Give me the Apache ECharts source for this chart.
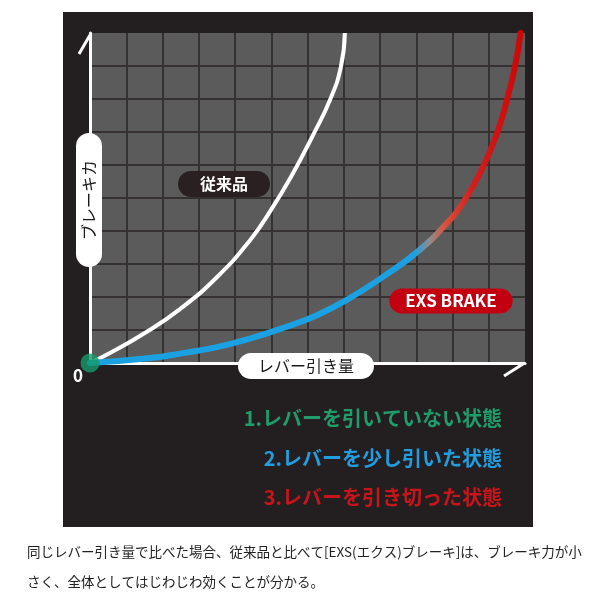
<!DOCTYPE html>
<html><head><meta charset="utf-8">
<script src="https://cdn.jsdelivr.net/npm/echarts@6/dist/echarts.min.js"></script>
<style>html,body{margin:0;padding:0;background:#fff}#c{width:600px;height:600px}</style>
</head><body><div id="c"></div>
<script>
// Lever travel (x) vs braking force (y), grid units x10
const conventionalX = [0, 5.5, 15, 25, 35, 44, 50, 55.5, 61.5, 66.2, 69.2, 70.3];
const conventionalY = [0, 3, 9, 16.5, 26, 37, 46.5, 56.5, 69, 79.7, 89.7, 100];
const exsX = [0, 16.6, 25.7, 35, 44.1, 53.2, 62.6, 71.7, 80.8, 90.2, 98.5, 103.4, 108.4, 112.3, 115, 117.2, 118.8];
const exsY = [0, 1.5, 3.0, 4.8, 7.4, 10.6, 14.5, 19.7, 26.1, 33.6, 42.4, 49.4, 59.4, 69.7, 79.7, 89.7, 100];
const originPoint = [[0, 0]];
const seriesNames = ['従来品', 'EXS BRAKE'];
const axisNames = ['レバー引き量', 'ブレーキカ'];
const stateLabels = ['1.レバーを引いていない状態', '2.レバーを少し引いた状態', '3.レバーを引き切った状態'];
const captionLines = ['同じレバー引き量で比べた場合、従来品と比べて[EXS(エクス)ブレーキ]は、ブレーキ力が小', 'さく、全体としてはじわじわ効くことが分かる。'];

const zip = (xs, ys) => xs.map((x, i) => [x, ys[i]]);
const FONT = '"Noto Sans CJK JP", "Noto Sans", sans-serif';

const chart = echarts.init(document.getElementById('c'));
chart.setOption({
  backgroundColor: '#ffffff',
  animation: false,
  grid: { left: 90, top: 33, width: 435, height: 330, show: true, backgroundColor: '#5b5b5b', borderWidth: 0 },
  xAxis: {
    type: 'value', min: 0, max: 120, interval: 10,
    axisLine: { show: true, lineStyle: { color: '#ffffff', width: 3 } },
    axisTick: { show: false }, axisLabel: { show: false },
    splitLine: { show: true, showMinLine: false, showMaxLine: false, lineStyle: { color: '#363131', width: 2 } }
  },
  yAxis: {
    type: 'value', min: 0, max: 100, interval: 10,
    axisLine: { show: true, lineStyle: { color: '#ffffff', width: 3 } },
    axisTick: { show: false }, axisLabel: { show: false },
    splitLine: { show: true, showMinLine: false, showMaxLine: false, lineStyle: { color: '#363131', width: 2 } }
  },
  series: [
    {
      name: seriesNames[0], type: 'line', smooth: 0.5, showSymbol: false, z: 3,
      lineStyle: { color: '#ffffff', width: 4 },
      data: zip(conventionalX, conventionalY)
    },
    {
      name: seriesNames[1], type: 'line', smooth: 0.5, showSymbol: false, z: 4,
      lineStyle: {
        width: 6, cap: 'round',
        color: new echarts.graphic.LinearGradient(0, 0, 1, 0, [
          { offset: 0, color: '#1ba1e2' },
          { offset: 0.75, color: '#1ba1e2' },
          { offset: 0.785, color: '#948a8c' },
          { offset: 0.82, color: '#d5533c' },
          { offset: 0.88, color: '#d02020' },
          { offset: 1, color: '#cc0606' }
        ])
      },
      data: zip(exsX, exsY)
    },
    {
      type: 'scatter', symbolSize: 19, z: 6,
      itemStyle: { color: '#17996a' },
      data: originPoint
    }
  ],
  graphic: [
    { type: 'rect', z: -10, shape: { x: 63, y: 12, width: 470, height: 515 }, style: { fill: '#231f20' } },
    { type: 'polyline', z: 10, shape: { points: [[90, 35], [79, 54]] }, style: { stroke: '#fff', lineWidth: 3, fill: null } },
    { type: 'polyline', z: 10, shape: { points: [[523, 364], [504, 376]] }, style: { stroke: '#fff', lineWidth: 3, fill: null } },
    { type: 'text', z: 20, x: 224, y: 184, style: { text: seriesNames[0], font: 'bold 16px ' + FONT, fill: '#fff', backgroundColor: '#2a2021', borderRadius: 14, padding: [5, 22], align: 'center', verticalAlign: 'middle' } },
    { type: 'text', z: 20, x: 451, y: 301, style: { text: seriesNames[1], font: 'bold 17px ' + FONT, fill: '#fff', backgroundColor: '#c2000f', borderRadius: 14, padding: [4, 16], align: 'center', verticalAlign: 'middle' } },
    { type: 'text', z: 20, x: 306, y: 366, style: { text: axisNames[0], font: '16px ' + FONT, fill: '#1a1a1a', backgroundColor: '#ffffff', borderRadius: 14, padding: [5, 20], align: 'center', verticalAlign: 'middle' } },
    { type: 'text', z: 20, x: 89, y: 200, rotation: Math.PI / 2, style: { text: axisNames[1], font: '16px ' + FONT, fill: '#1a1a1a', backgroundColor: '#ffffff', borderRadius: 14, padding: [5, 27], align: 'center', verticalAlign: 'middle' } },
    { type: 'text', z: 20, x: 78, y: 376, style: { text: '0', font: 'bold 17px ' + FONT, fill: '#fff', align: 'center', verticalAlign: 'middle' } },
    { type: 'text', z: 20, x: 502, y: 418, style: { text: stateLabels[0], font: 'bold 20px ' + FONT, fill: '#1f9e6c', align: 'right', verticalAlign: 'middle' } },
    { type: 'text', z: 20, x: 502, y: 458, style: { text: stateLabels[1], font: 'bold 20px ' + FONT, fill: '#229ee0', align: 'right', verticalAlign: 'middle' } },
    { type: 'text', z: 20, x: 502, y: 497, style: { text: stateLabels[2], font: 'bold 20px ' + FONT, fill: '#c8141b', align: 'right', verticalAlign: 'middle' } },
    { type: 'text', z: 20, x: 27, y: 552, style: { text: captionLines[0], font: '13.5px ' + FONT, fill: '#222', align: 'left', verticalAlign: 'middle' } },
    { type: 'text', z: 20, x: 27, y: 582, style: { text: captionLines[1], font: '13.5px ' + FONT, fill: '#222', align: 'left', verticalAlign: 'middle' } }
  ]
});
</script></body></html>
